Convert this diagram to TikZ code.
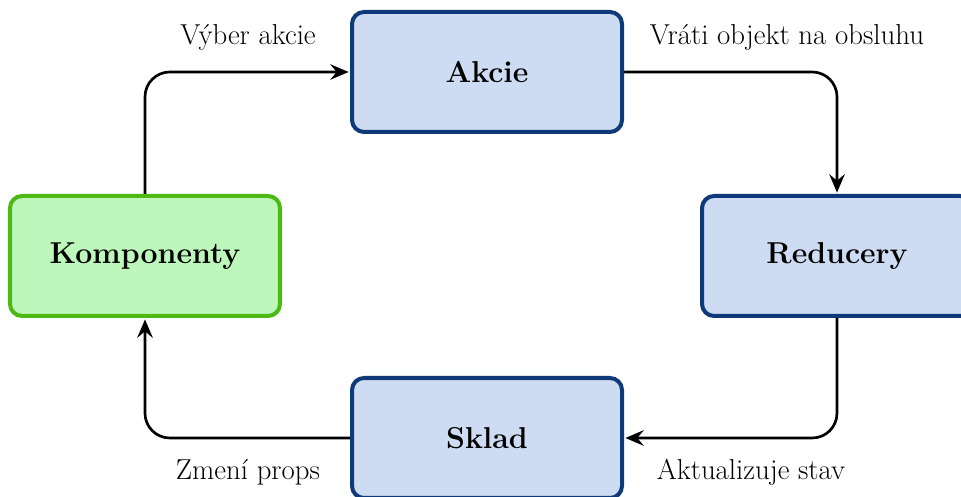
\documentclass[tikz,border=0pt]{standalone}
\usepackage{fontspec}
\usepackage{tikz}
\usetikzlibrary{arrows.meta,positioning}
\usepackage{xcolor}

\definecolor{blokmodra}{HTML}{CDDCF3}
\definecolor{okrajmodra}{HTML}{0E3A7A}
\definecolor{blokzelena}{HTML}{BDF7BB}
\definecolor{okrajzelena}{HTML}{4CB914}

\begin{document}
\begin{tikzpicture}[>={Stealth[length=13pt,width=11pt,inset=4.5pt]},shorten >=1pt,node distance=4.6cm and 8.55cm,on grid,
		blok/.style={rectangle,rounded corners=0.3cm,draw=okrajmodra,fill=blokmodra,line width=2.85pt,
			minimum width=6.75cm,minimum height=3cm,font=\fontsize{21.5}{25}\selectfont\bfseries},
		zblok/.style={blok,draw=okrajzelena,fill=blokzelena},
		tok/.style={->,line width=1.9pt,rounded corners=0.62cm},
		popis/.style={anchor=base,font=\fontsize{20.5}{24}\selectfont}]
				  \useasboundingbox (-3.625,-6.025) rectangle (20.4,6.4);

				  \node[zblok]          (komp)                          {Komponenty};
				  \node[blok]           (akcie) [above right =of komp]  {Akcie};
				  \node[blok]           (red)   [right =17.3cm of komp] {Reducery};
				  \node[blok]           (sklad) [below right =4.55cm and 8.55cm of komp] {Sklad};

				  % sipky
				  \draw[tok] (komp.north) |- (akcie.west);
				  \draw[tok] (akcie.east) -| (red.north);
				  \draw[tok] (red.south) |- (sklad.east);
				  \draw[tok] (sklad.west) -| (komp.south);

				  % popisy
				  \node[popis] (vyber)  at (2.575,5.275)  {Výber akcie};
				  \node[popis] (vrati)  at (16.05,5.275)  {Vráti objekt na obsluhu};
				  \node[popis] (zmeni)  at (2.575,-5.6)   {Zmení props};
				  \node[popis] (aktual) at (15.15,-5.6)   {Aktualizuje stav};
			\end{tikzpicture}
\end{document}
